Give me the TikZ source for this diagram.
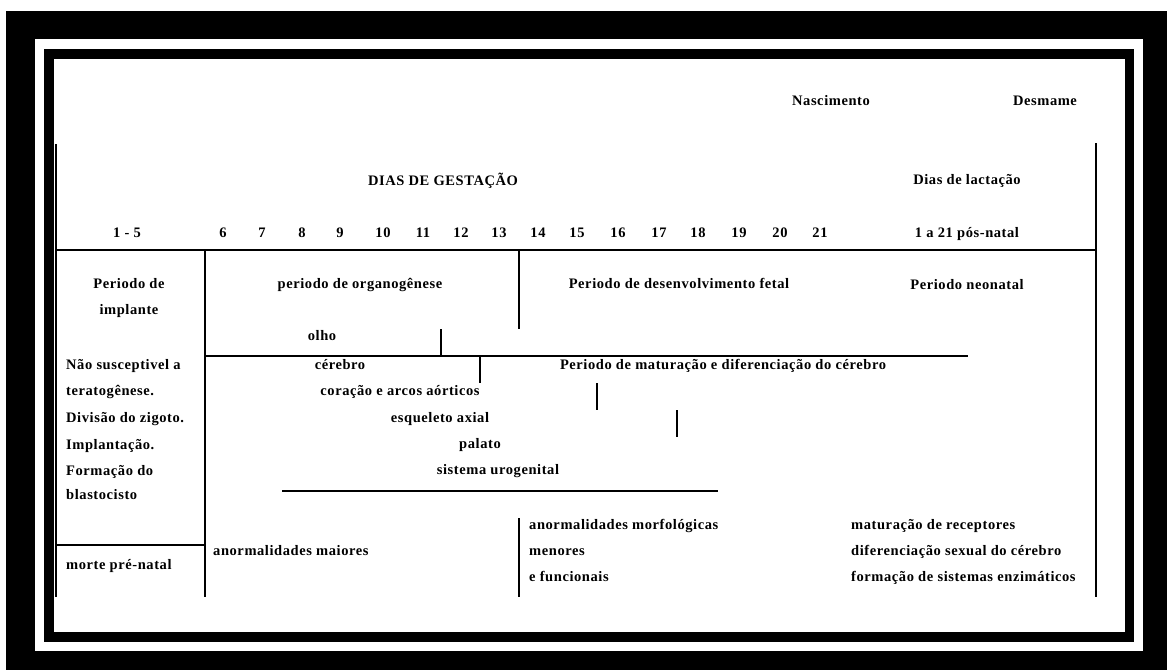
\documentclass[tikz,border=0pt]{standalone}
\usepackage{fontspec}
\setmainfont{Liberation Serif}[LetterSpace=4]
\begin{document}
\begin{tikzpicture}[x=1pt,y=-1pt,
  txt/.style={inner sep=0pt,font=\fontsize{14.5}{16}\selectfont\bfseries,anchor=mid},
  ltxt/.style={txt,anchor=mid west},
  rule/.style={line width=2.2pt},
  num/.style={txt}]
\useasboundingbox (0,0) rectangle (1167,670);
% frame
\fill[black] (6,11) rectangle (1167,670);
\fill[white] (35,39) rectangle (1143,651);
\fill[black] (44,49) rectangle (1134,642);
\fill[white] (54,59) rectangle (1125,632);
% table rules
\draw[rule] (56,144) -- (56,597);
\draw[rule] (1096,143) -- (1096,597);
\draw[rule] (56,250) -- (1096,250);
\draw[rule] (205,250) -- (205,597);
\draw[rule] (519,250) -- (519,329);
\draw[rule] (441,329) -- (441,356);
\draw[rule] (205,356) -- (968,356);
\draw[rule] (480,356) -- (480,383);
\draw[rule] (597,383) -- (597,410);
\draw[rule] (677,410) -- (677,437);
\draw[rule] (282,491) -- (718,491);
\draw[rule] (56,545) -- (205,545);
\draw[rule] (519,518) -- (519,597);
% header texts
\node[txt] (nasc) at (831,103) {Nascimento};
\node[txt] (desm) at (1045,103) {Desmame};
\node[txt] (dias) at (443,183) {DIAS DE GESTAÇÃO};
\node[txt] (lact) at (967,182) {Dias de lactação};
\node[txt] (d15) at (127,235) {1 - 5};
\foreach \n/\x in {6/223,7/262,8/302,9/340,10/383,11/423,12/461,13/499,14/538,15/577,16/618,17/659,18/698,19/739,20/780,21/820}
  \node[num] (n\n) at (\x,235) {\n};
\node[txt] (pos) at (967,235) {1 a 21 pós-natal};
% period row
\node[txt] (impl1) at (129,286) {Periodo de};
\node[txt] (impl2) at (129,312) {implante};
\node[txt] (organ) at (360,286) {periodo de organogênese};
\node[txt] (fetal) at (679,286) {Periodo de desenvolvimento fetal};
\node[txt] (neon) at (967,287) {Periodo neonatal};
% organs
\node[txt] (olho) at (322,338) {olho};
\node[txt] (cer) at (340,367) {cérebro};
\node[txt] (matur) at (723,367) {Periodo de maturação e diferenciação do cérebro};
\node[txt] (cor) at (400,393) {coração e arcos aórticos};
\node[txt] (esq) at (440,420) {esqueleto axial};
\node[txt] (pal) at (480,446) {palato};
\node[txt] (uro) at (498,472) {sistema urogenital};
% left column
\node[ltxt] (l1) at (66,367) {Não susceptivel a};
\node[ltxt] (l2) at (66,393) {teratogênese.};
\node[ltxt] (l3) at (66,420) {Divisão do zigoto.};
\node[ltxt] (l4) at (66,447) {Implantação.};
\node[ltxt] (l5) at (66,473) {Formação do};
\node[ltxt] (l6) at (66,497) {blastocisto};
\node[ltxt] (morte) at (66,567) {morte pré-natal};
% bottom row
\node[ltxt] (amai) at (213,553) {anormalidades maiores};
\node[ltxt] (am1) at (529,527) {anormalidades morfológicas};
\node[ltxt] (am2) at (529,553) {menores};
\node[ltxt] (am3) at (529,579) {e funcionais};
\node[ltxt] (r1) at (851,527) {maturação de receptores};
\node[ltxt] (r2) at (851,553) {diferenciação sexual do cérebro};
\node[ltxt] (r3) at (851,579) {formação de sistemas enzimáticos};
\end{tikzpicture}
\end{document}
